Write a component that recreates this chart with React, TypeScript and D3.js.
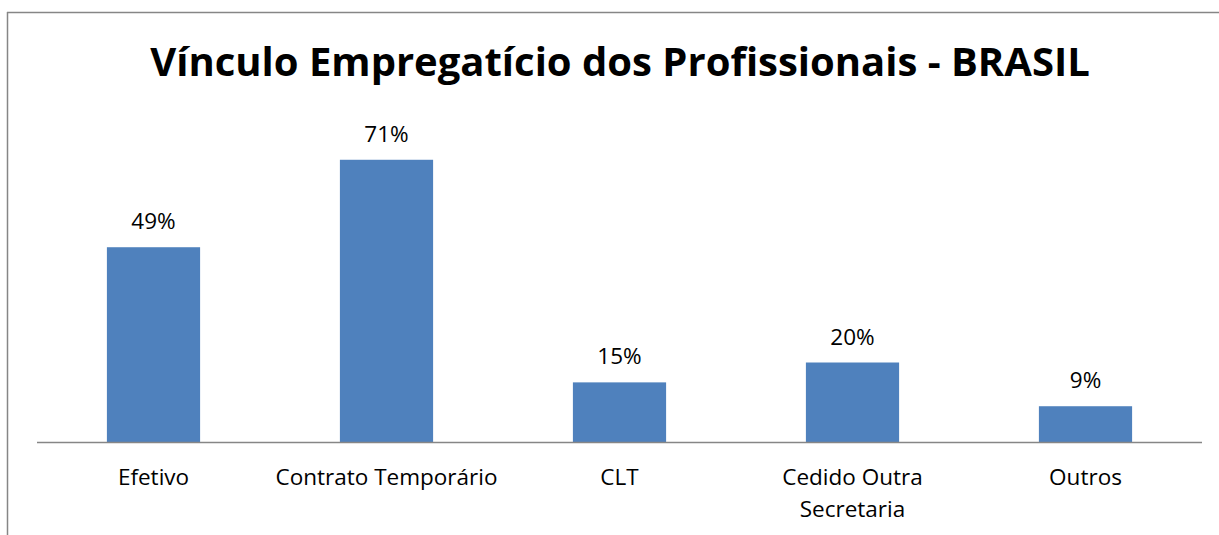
import React from "react";
import * as d3 from "d3";

const title = "Vínculo Empregatício dos Profissionais - BRASIL";
const categories = ["Efetivo", "Contrato Temporário", "CLT", "Cedido Outra Secretaria", "Outros"];
const categoryLines = [["Efetivo"], ["Contrato Temporário"], ["CLT"], ["Cedido Outra", "Secretaria"], ["Outros"]];
const values = [49, 71, 15, 20, 9];
const valueLabels = ["49%", "71%", "15%", "20%", "9%"];

const W = 1219;
const H = 535;
const FONT = "'Open Sans', 'Noto Sans', sans-serif";

export default function App() {
  const x = d3.scaleBand<string>().domain(categories).range([37, 1202]).paddingInner(0.6).paddingOuter(0.3);
  const y = d3.scaleLinear().domain([0, 80]).range([442, 124]);
  return (
    <svg width={W} height={H} style={{ position: "absolute", left: 0, top: 0, background: "#fff" }}>
      <rect x={0} y={0} width={W} height={H} fill="#fff" />
      <line x1={7.5} y1={12} x2={7.5} y2={H} stroke="#868686" strokeWidth={1.5} />
      <line x1={7} y1={12.5} x2={W} y2={12.5} stroke="#868686" strokeWidth={1.5} />
      <text x={620} y={76} textAnchor="middle" fontFamily={FONT} fontWeight="bold" fontSize={40} fill="#000">
        {title}
      </text>
      {categories.map((c, i) => (
        <g key={c}>
          <rect x={x(c)} y={y(values[i])} width={x.bandwidth()} height={y(0) - y(values[i])} fill="#4f81bd" />
          <text x={(x(c) as number) + x.bandwidth() / 2} y={y(values[i]) - 18} textAnchor="middle" fontFamily={FONT} fontSize={22.5} fill="#000">
            {valueLabels[i]}
          </text>
          {categoryLines[i].map((l, j) => (
            <text key={j} x={(x(c) as number) + x.bandwidth() / 2} y={485 + j * 32} textAnchor="middle" fontFamily={FONT} fontSize={22.5} fill="#000">
              {l}
            </text>
          ))}
        </g>
      ))}
      <line x1={37} x2={1202} y1={y(0) + 0.5} y2={y(0) + 0.5} stroke="#868686" strokeWidth={1.5} />
    </svg>
  );
}
